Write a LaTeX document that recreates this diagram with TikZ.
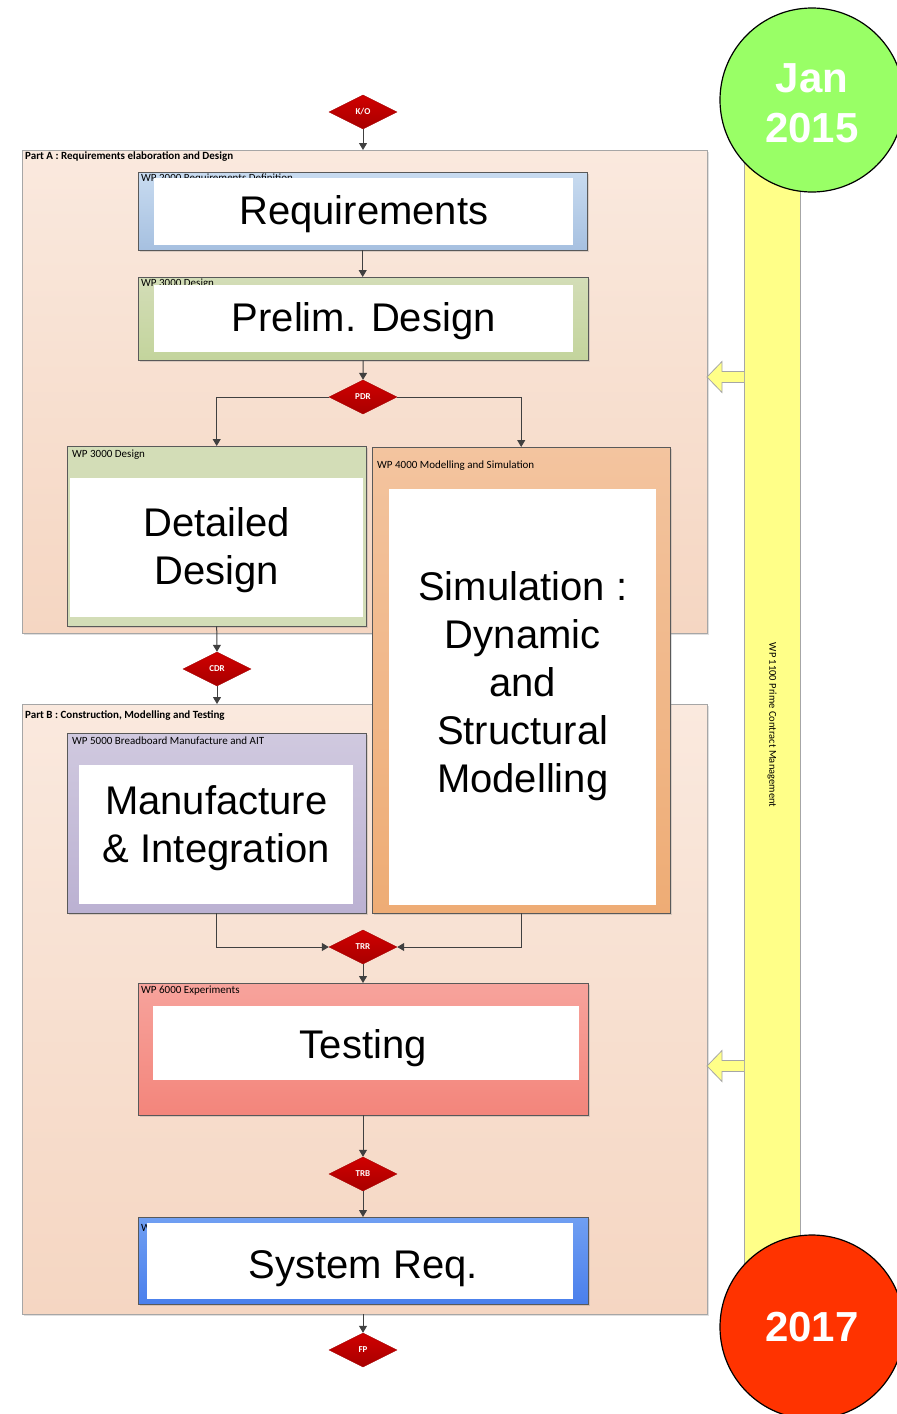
\documentclass[tikz,border=0pt]{standalone}
\usepackage{fontspec}
\setmainfont{Liberation Sans}
\newfontfamily\calibri{Carlito}
\usepackage{xcolor}
\usepackage{tikz}
\usetikzlibrary{positioning,arrows.meta,shapes.geometric,shadows}

\definecolor{partTop}{HTML}{FAE9DE}
\definecolor{partBot}{HTML}{F5D6C2}
\definecolor{reqTop}{HTML}{C8DBF0}
\definecolor{reqBot}{HTML}{A6C0E0}
\definecolor{desTop}{HTML}{D3DDB7}
\definecolor{desBot}{HTML}{C3D49C}
\definecolor{simTop}{HTML}{F3C49F}
\definecolor{simBot}{HTML}{EEAC75}
\definecolor{mfgTop}{HTML}{D0C9DF}
\definecolor{mfgBot}{HTML}{BBB1D2}
\definecolor{tstTop}{HTML}{F7A39C}
\definecolor{tstBot}{HTML}{F3857B}
\definecolor{sysTop}{HTML}{709FF2}
\definecolor{sysBot}{HTML}{4A7FEC}
\definecolor{gateTop}{HTML}{D00000}
\definecolor{gateBot}{HTML}{A80000}
\definecolor{barYellow}{HTML}{FFFF88}
\definecolor{startGreen}{HTML}{99FF66}
\definecolor{endRed}{HTML}{FF3300}
\definecolor{flowGray}{HTML}{404040}

\tikzset{
  part/.style={draw=gray!70, top color=partTop, bottom color=partBot, anchor=north west, inner sep=0pt,
    drop shadow={opacity=0.25, shadow xshift=1.5pt, shadow yshift=-1.5pt}},
  wpbox/.style={draw=gray!70!black, anchor=north west, inner sep=0pt,
    drop shadow={opacity=0.25, shadow xshift=1.5pt, shadow yshift=-1.5pt}},
  whitebox/.style={fill=white, anchor=north west, inner sep=0pt},
  bigtext/.style={inner sep=0pt, align=center, font=\fontsize{40}{48}\selectfont},
  wplabel/.style={font=\calibri\fontsize{11}{13}\selectfont, inner sep=0pt, anchor=north west},
  partlabel/.style={font=\calibri\bfseries\fontsize{11}{13}\selectfont, inner sep=0pt, anchor=north west},
  gate/.style={diamond, aspect=2, minimum width=68pt, minimum height=34pt, inner sep=0pt,
    top color=gateTop, bottom color=gateBot, draw=gateBot, text=white,
    font=\calibri\bfseries\fontsize{9}{10}\selectfont},
  flow/.style={draw=flowGray, line width=1pt, -{Triangle[width=8pt,length=7pt]}},
  milestone/.style={circle, draw=black, line width=1.2pt, minimum size=184pt, inner sep=0pt,
    text=white, align=center, font=\bfseries\fontsize{42}{50}\selectfont},
  block/.style={fill=barYellow, draw=gray!70, line width=0.8pt}
}

\begin{document}
\begin{tikzpicture}[x=1pt,y=-1pt]
    %FRAME
    \useasboundingbox (0,0) rectangle (897,1414);
    \clip (0,0) rectangle (897,1414);
    %PART A AND PART B
    \node[part, minimum width=685pt, minimum height=483pt] (partA) at (22,150) {};
    \node[partlabel] (partAlbl) at (25,152) {Part A : Requirements elaboration and Design};
    \node[part, minimum width=685pt, minimum height=610pt] (partB) at (22,704) {};
    \node[partlabel] (partBlbl) at (25,711) {Part B : Construction, Modelling and Testing};
    %TIMELINE BAR
    \node[draw=gray!70, fill=barYellow, anchor=north west, inner sep=0pt,
      minimum width=56pt, minimum height=1130pt] (bar) at (744,150) {};
    \node[rotate=-90, font=\calibri\fontsize{10.5}{12}\selectfont, inner sep=0pt] (barlbl) at (772,725)
      {WP 1100 Prime Contract Management};
    \foreach \yy in {377,1066} {
      \filldraw[block] (744,\yy-5.5) -- (722,\yy-5.5) -- (722,\yy-15.5) -- (707,\yy)
        -- (722,\yy+15.5) -- (722,\yy+5.5) -- (744,\yy+5.5);
    }
    %REQUIREMENTS
    \node[wpbox, top color=reqTop, bottom color=reqBot, minimum width=449pt, minimum height=78pt] (req) at (138,172) {};
    \node[wplabel, below right=2pt and 3pt of req.north west] (reqlbl) {WP 2000 Requirements Definition};
    \node[whitebox, minimum width=419pt, minimum height=67pt] (reqin) at (154,178) {};
    \node[bigtext] (reqtxt) at ([yshift=-2pt]reqin.center) {Requirements};
    %PRELIM DESIGN
    \node[wpbox, top color=desTop, bottom color=desBot, minimum width=450pt, minimum height=83pt] (prel) at (138,277) {};
    \node[wplabel, below right=1.5pt and 3pt of prel.north west] (prellbl) {WP 3000 Design};
    \node[whitebox, minimum width=419pt, minimum height=67pt] (prelin) at (154,285) {};
    \node[bigtext] (preltxt) at ([yshift=-2pt]prelin.center) {Prelim. Design};
    %DETAILED DESIGN
    \node[wpbox, fill=desTop, minimum width=299pt, minimum height=180pt] (dd) at (67,446) {};
    \node[wplabel, below right=4pt and 5pt of dd.north west] (ddlbl) {WP 3000 Design};
    \node[whitebox, minimum width=293pt, minimum height=139pt] (ddin) at (70,478) {};
    \node[bigtext] (ddtxt) at ([yshift=-2pt]ddin.center) {Detailed\\Design};
    %MANUFACTURE
    \node[wpbox, top color=mfgTop, bottom color=mfgBot, minimum width=299pt, minimum height=180pt] (mfg) at (67,733) {};
    \node[wplabel, below right=4pt and 5pt of mfg.north west] (mfglbl) {WP 5000 Breadboard Manufacture and AIT};
    \node[whitebox, minimum width=274pt, minimum height=139pt] (mfgin) at (79,765) {};
    \node[bigtext] (mfgtxt) at ([yshift=7pt]mfgin.center) {Manufacture\\\& Integration};
    %SIMULATION
    \node[wpbox, top color=simTop, bottom color=simBot, minimum width=298pt, minimum height=466pt] (sim) at (372,447) {};
    \node[wplabel, below right=14pt and 5pt of sim.north west] (simlbl) {WP 4000 Modelling and Simulation};
    \node[whitebox, minimum width=267pt, minimum height=416pt] (simin) at (389,489) {};
    \node[bigtext] (simtxt) at ([yshift=11pt]simin.center) {Simulation :\\Dynamic\\and\\Structural\\Modelling};
    %TESTING
    \node[wpbox, top color=tstTop, bottom color=tstBot, minimum width=450pt, minimum height=132pt] (tst) at (138,983) {};
    \node[wplabel, below right=3pt and 3pt of tst.north west] (tstlbl) {WP 6000 Experiments};
    \node[whitebox, minimum width=426pt, minimum height=74pt] (tstin) at (153,1006) {};
    \node[bigtext] (tsttxt) at ([xshift=-3pt,yshift=-5pt]tstin.center) {Testing};
    %SYSTEM REQ
    \node[wpbox, top color=sysTop, bottom color=sysBot, minimum width=450pt, minimum height=87pt] (sys) at (138,1217) {};
    \node[wplabel, below right=7pt and 3pt of sys.north west] (syslbl) {WP};
    \node[whitebox, minimum width=426pt, minimum height=76pt] (sysin) at (147,1223) {};
    \node[bigtext] (systxt) at ([xshift=3pt,yshift=-7pt]sysin.center) {System Req.};
    %GATES
    \node[gate] (ko) at (363,112) {K/O};
    \node[gate] (pdr) at (363,397) {PDR};
    \node[gate] (cdr) at (217,669) {CDR};
    \node[gate] (trr) at (363,947) {TRR};
    \node[gate] (trb) at (363,1174) {TRB};
    \node[gate] (fp) at (363,1350) {FP};
    %ARROWS
    \draw[flow] (ko.south) -- (ko.south |- partA.north);
    \draw[flow] (req.south) -- (req.south |- prel.north);
    \draw[flow] (prel.south) -- (pdr.north);
    \draw[flow] (pdr.west) -| (dd.north);
    \draw[flow] (pdr.east) -| (sim.north);
    \draw[flow] (dd.south) -- (cdr.north);
    \draw[flow] (cdr.south) -- (cdr.south |- partB.north);
    \draw[flow] (mfg.south) |- (trr.west);
    \draw[flow] (sim.south) |- (trr.east);
    \draw[flow] (trr.south) -- (trr.south |- tst.north);
    \draw[flow] (tst.south -| trb) -- (trb.north);
    \draw[flow] (trb.south) -- (trb.south |- sys.north);
    \draw[flow] (fp.north |- partB.south) -- (fp.north);
    %MILESTONES
    \node[milestone, fill=startGreen] (start) at (812,100) {};
    \node[milestone, draw=none, fill=none] (starttxt) at (812,103) {Jan\\2015};
    \node[milestone, fill=endRed] (finish) at (812,1327) {2017};
\end{tikzpicture}
\end{document}
